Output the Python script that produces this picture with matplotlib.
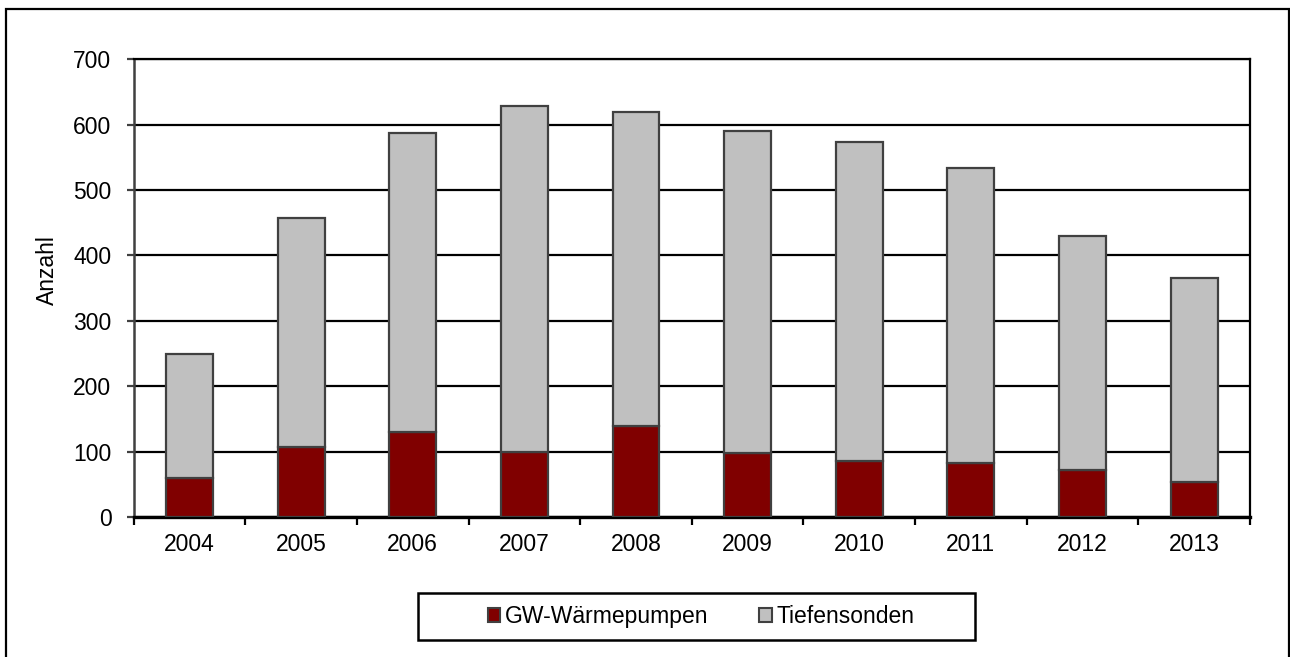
import numpy as np
import matplotlib
matplotlib.use("Agg")
import matplotlib.pyplot as plt
from matplotlib.patches import Rectangle, Patch

plt.rcParams['font.family'] = ['Liberation Sans', 'DejaVu Sans']

years = ['2004', '2005', '2006', '2007', '2008', '2009', '2010', '2011', '2012', '2013']
gw_waermepumpen = [59, 107, 130, 100, 139, 98, 86, 83, 72, 54]
tiefensonden = [191, 351, 457, 529, 480, 492, 487, 451, 358, 312]

W, H = 1290, 657
fig = plt.figure(figsize=(W / 100, H / 100), dpi=100)
ax = fig.add_axes([133.7 / W, 1 - 517 / H, (1250 - 133.7) / W, (517 - 59.3) / H])

x = np.arange(len(years))
bw = 0.42
ax.bar(x, gw_waermepumpen, bw, color='#800000', edgecolor='#404040', linewidth=1.6, zorder=3)
ax.bar(x, tiefensonden, bw, bottom=gw_waermepumpen, color='#C0C0C0', edgecolor='#404040',
       linewidth=1.6, zorder=3)

ax.set_xlim(-0.5, len(years) - 0.5)
ax.set_ylim(0, 700)
ax.set_yticks(np.arange(0, 701, 100))
ax.yaxis.grid(True, color='black', linewidth=1.6, zorder=0)
ax.set_axisbelow(True)

ax.set_xticks(x)
ax.set_xticklabels(years)
ax.set_xticks(np.arange(-0.5, len(years)), minor=True)
ax.tick_params(axis='x', which='major', length=0, pad=11.5, labelsize=16.5)
ax.tick_params(axis='x', which='minor', length=6, width=1.6, direction='out', color='black')
ax.tick_params(axis='y', length=5, width=1.6, direction='out', pad=11, labelsize=16.5, color='#404040')

for s in ['top', 'right']:
    ax.spines[s].set_color('black')
    ax.spines[s].set_linewidth(1.6)
ax.spines['left'].set_color('#404040')
ax.spines['left'].set_linewidth(1.8)
ax.spines['bottom'].set_color('black')
ax.spines['bottom'].set_linewidth(2.4)

fig.text(47 / W, 1 - 270 / H, 'Anzahl', rotation=90, ha='center', va='center', fontsize=16.5)

# outer chart border
fig.patches.append(Rectangle((6 / W, -0.05), (1289 - 6) / W, 1.05 - 9 / H, transform=fig.transFigure,
                             fill=False, edgecolor='black', linewidth=1.6))

# legend box
fig.patches.append(Rectangle((418 / W, 1 - 640 / H), (975 - 418) / W, (640 - 593) / H,
                             transform=fig.transFigure, fill=False, edgecolor='black', linewidth=1.8))
handles = [Patch(facecolor='#800000', edgecolor='#404040', linewidth=1.5),
           Patch(facecolor='#C0C0C0', edgecolor='#404040', linewidth=1.5)]
fig.legend(handles, ['GW-Wärmepumpen', 'Tiefensonden'], loc='center',
           bbox_to_anchor=(701 / W, 1 - 616.5 / H), ncol=2, frameon=False, fontsize=16.5,
           handlelength=0.55, handleheight=0.55, handletextpad=0.2, columnspacing=2.2)

fig.savefig('out.png', dpi=100)
